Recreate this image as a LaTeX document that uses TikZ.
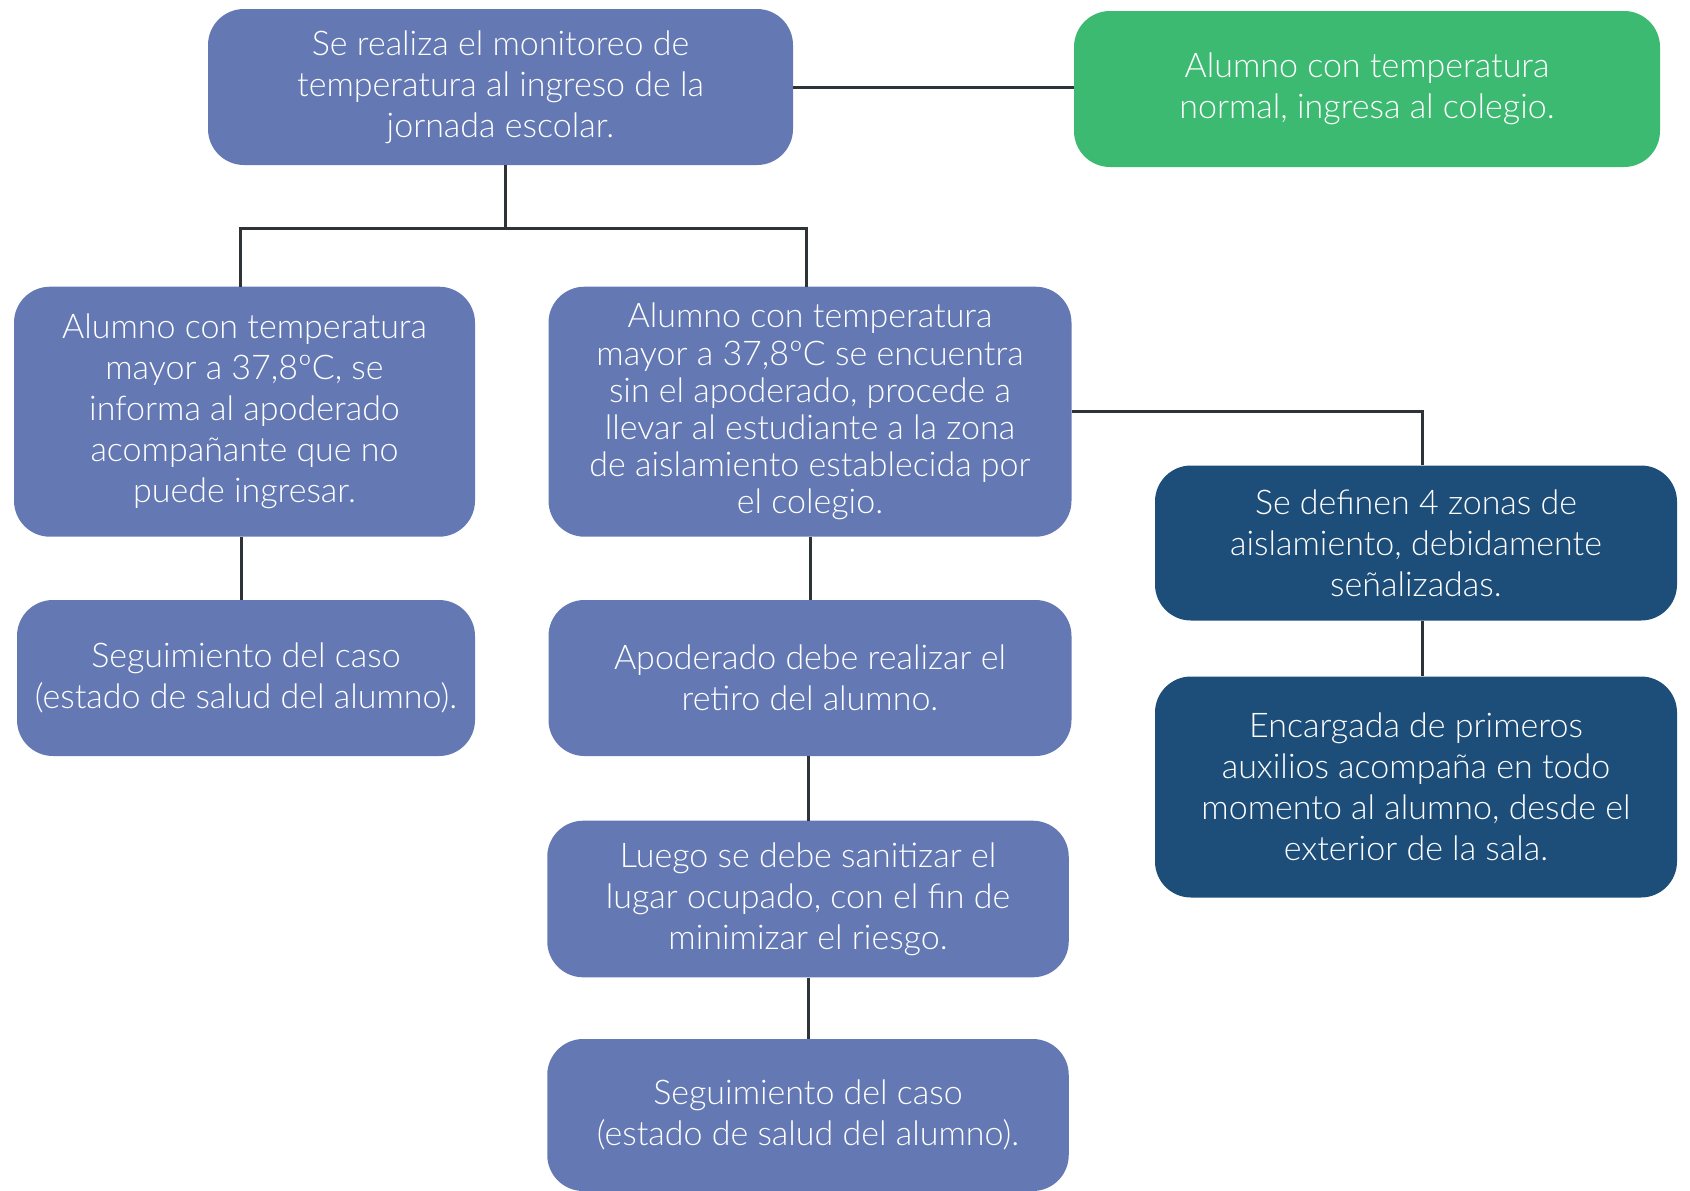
\documentclass[tikz,border=0pt]{standalone}
\usepackage{fontspec}
\setmainfont{Lato Light}
\definecolor{midblue}{HTML}{6479B4}
\definecolor{okgreen}{HTML}{3DBA72}
\definecolor{darkblue}{HTML}{1D4E79}
\definecolor{linegray}{HTML}{2E3338}
\begin{document}
\begin{tikzpicture}[x=1pt,y=-1pt,
  box/.style={rounded corners=36pt, text=white, align=center, inner sep=0pt,
    font=\fontsize{34}{41}\selectfont},
  midbox/.style={box, fill=midblue},
  greenbox/.style={box, fill=okgreen},
  darkbox/.style={box, fill=darkblue},
  link/.style={draw=linegray, line width=3pt}]
\path[use as bounding box] (0,0) rectangle (1690,1191);

\node[midbox, minimum width=585pt, minimum height=156pt] (top) at (500.5,87)
  {Se realiza el monitoreo de\\temperatura al ingreso de la\\jornada escolar.};
\node[greenbox, minimum width=586pt, minimum height=156pt] (green) at (1367,89)
  {Alumno con temperatura\\normal, ingresa al colegio.};
\node[midbox, minimum width=461pt, minimum height=250pt] (left1) at (244.5,411.7)
  {Alumno con temperatura\\mayor a 37,8ºC, se\\informa al apoderado\\acompañante que no\\puede ingresar.};
\node[midbox, minimum width=523pt, minimum height=250pt,
  font=\fontsize{34}{37.2}\selectfont] (mid1) at (810,411.7)
  {Alumno con temperatura\\mayor a 37,8ºC se encuentra\\sin el apoderado, procede a\\llevar al estudiante a la zona\\de aislamiento establecida por\\el colegio.};
\node[darkbox, minimum width=522pt, minimum height=155pt] (right1) at (1416,543)
  {Se definen 4 zonas de\\aislamiento, debidamente\\señalizadas.};
\node[midbox, minimum width=458pt, minimum height=156pt] (left2) at (246,678)
  {Seguimiento del caso\\(estado de salud del alumno).};
\node[midbox, minimum width=523pt, minimum height=156pt] (mid2) at (810,678)
  {Apoderado debe realizar el\\retiro del alumno.};
\node[darkbox, minimum width=522pt, minimum height=221pt] (right2) at (1416,787)
  {Encargada de primeros\\auxilios acompaña en todo\\momento al alumno, desde el\\exterior de la sala.};
\node[midbox, minimum width=521.5pt, minimum height=156.6pt] (mid3) at (808,899)
  {Luego se debe sanitizar el\\lugar ocupado, con el fin de\\minimizar el riesgo.};
\node[midbox, minimum width=521.5pt, minimum height=152pt] (mid4) at (808,1115)
  {Seguimiento del caso\\(estado de salud del alumno).};

\coordinate (bus) at (505.5,228.5);
\draw[link] (top.east) -- (top.east -| green.west);
\draw[link] (top.south -| bus) -- (bus);
\draw[link] ([xshift=-4.5pt]left1.north) |- (bus) -| ([xshift=-4pt]mid1.north);
\draw[link] (mid1.east) -| ([xshift=6.7pt]right1.north);
\draw[link] ([xshift=-3pt]left1.south) -- ([xshift=-4.5pt]left2.north);
\draw[link] (mid1.south) -- (mid1.south |- mid2.north);
\draw[link] (mid3.north |- mid2.south) -- (mid3.north);
\draw[link] (mid3.south) -- (mid4.north);
\draw[link] ([xshift=6.7pt]right1.south) -- ([xshift=6.7pt]right2.north);
\end{tikzpicture}
\end{document}
